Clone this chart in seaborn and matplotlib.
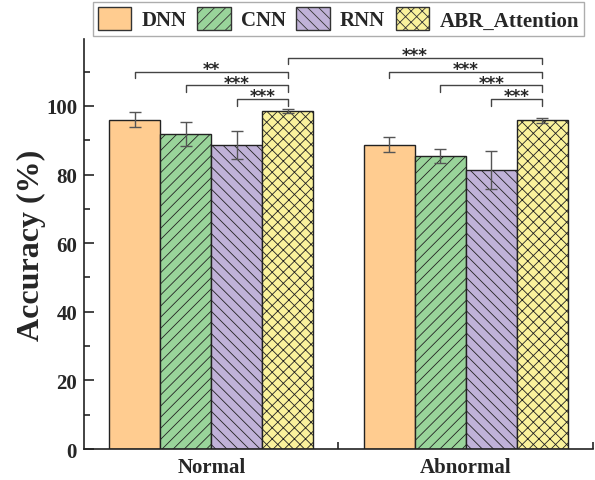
import pandas as pd
import matplotlib
matplotlib.use("Agg")
import matplotlib.pyplot as plt
import seaborn as sns
from matplotlib.ticker import FixedLocator
from matplotlib.patches import Patch

# data
groups = ["Normal", "Abnormal"]
models = ["DNN", "CNN", "RNN", "ABR_Attention"]
acc_normal = [96.0, 91.7, 88.6, 98.4]
acc_abnormal = [88.7, 85.4, 81.4, 95.8]
err_normal = [2.2, 3.5, 4.2, 0.6]
err_abnormal = [2.2, 1.9, 5.6, 0.8]
colors = ["#FFCC90", "#99D49A", "#C0B2D8", "#FAF29C"]
hatches = ["", "///", "\\\\\\", "xxx"]
# (group, model i, group, model j, height, label)
brackets = [
    (0, 0, 0, 3, 110.0, "**"),
    (0, 1, 0, 3, 106.0, "***"),
    (0, 2, 0, 3, 102.0, "***"),
    (0, 3, 1, 3, 114.0, "***"),
    (1, 0, 1, 3, 110.0, "***"),
    (1, 1, 1, 3, 106.0, "***"),
    (1, 2, 1, 3, 102.0, "***"),
]

df = pd.DataFrame({
    "group": [g for g in groups for _ in models],
    "model": models * 2,
    "acc": acc_normal + acc_abnormal,
    "err": err_normal + err_abnormal,
})

sns.set_style("ticks")
plt.rcParams['font.family'] = ['Liberation Serif', 'DejaVu Serif']
plt.rcParams['font.weight'] = 'bold'
plt.rcParams['hatch.linewidth'] = 0.6
plt.rcParams['hatch.color'] = '#3a3a3a'

fig = plt.figure(figsize=(5.95, 4.81), dpi=100)
ax = fig.add_axes([0.1412, 0.0644, 0.8554, 0.8524])

sns.barplot(data=df, x="group", y="acc", hue="model", order=groups,
            hue_order=models, palette=colors, saturation=1, width=0.8, gap=0,
            errorbar=None, edgecolor="#222222", linewidth=1.0,
            legend=False, ax=ax)

# hatches + error bars
bar_conts = list(ax.containers)
centers = {}
for mi, cont in enumerate(bar_conts):
    for gi, bar in enumerate(cont.patches):
        bar.set_hatch(hatches[mi])
        cx = bar.get_x() + bar.get_width() / 2
        centers[(gi, mi)] = cx
        row = df[(df.group == groups[gi]) & (df.model == models[mi])].iloc[0]
        ax.errorbar(cx, row.acc, yerr=row.err, fmt="none", ecolor="#555555",
                    elinewidth=1.0, capsize=4.5, capthick=1.0, zorder=5)

# significance brackets
leg = 1.9
for g1, m1, g2, m2, h, lab in brackets:
    x1, x2 = centers[(g1, m1)], centers[(g2, m2)]
    ax.plot([x1, x1, x2, x2], [h - leg, h, h, h - leg], color="#444444",
            lw=1.0, clip_on=False)
    ax.text((x1 + x2) / 2, h - 0.7, lab, ha="center", va="baseline",
            fontsize=12, family="DejaVu Sans", fontweight="bold")

ax.set_xlim(-0.5, 1.5)
ax.set_ylim(0, 119.5)
ax.set_yticks([0, 20, 40, 60, 80, 100])
ax.yaxis.set_minor_locator(FixedLocator([10, 30, 50, 70, 90, 110]))
ax.xaxis.set_minor_locator(FixedLocator([0.5, 1.5]))
ax.tick_params(axis="y", which="major", direction="in", length=7, width=1.2,
               labelsize=15, pad=5)
ax.tick_params(axis="y", which="minor", direction="in", length=4, width=1.2)
ax.tick_params(axis="x", which="major", length=0, labelsize=15, pad=6)
ax.tick_params(axis="x", which="minor", direction="in", length=5, width=1.2)
for lab in ax.get_xticklabels() + ax.get_yticklabels():
    lab.set_fontweight("bold")

ax.set_xlabel("")
ax.set_ylabel("Accuracy (%)", fontsize=23, fontweight="bold", labelpad=0)
sns.despine(ax=ax)
for s in ["left", "bottom"]:
    ax.spines[s].set_linewidth(1.2)
    ax.spines[s].set_color("#222222")

# legend
handles = [Patch(facecolor=c, edgecolor="#333333", hatch=h, linewidth=1.0)
           for c, h in zip(colors, hatches)]
fig.legend(handles, models, loc="upper left", bbox_to_anchor=(0.156, 0.994),
           ncol=4, frameon=True, fancybox=False, edgecolor="#999999",
           prop={"size": 15, "weight": "bold"}, handlelength=1.6,
           handleheight=1.3, columnspacing=0.5, handletextpad=0.5,
           borderpad=0.25, borderaxespad=0.0)

fig.savefig("out.png", dpi=100)
